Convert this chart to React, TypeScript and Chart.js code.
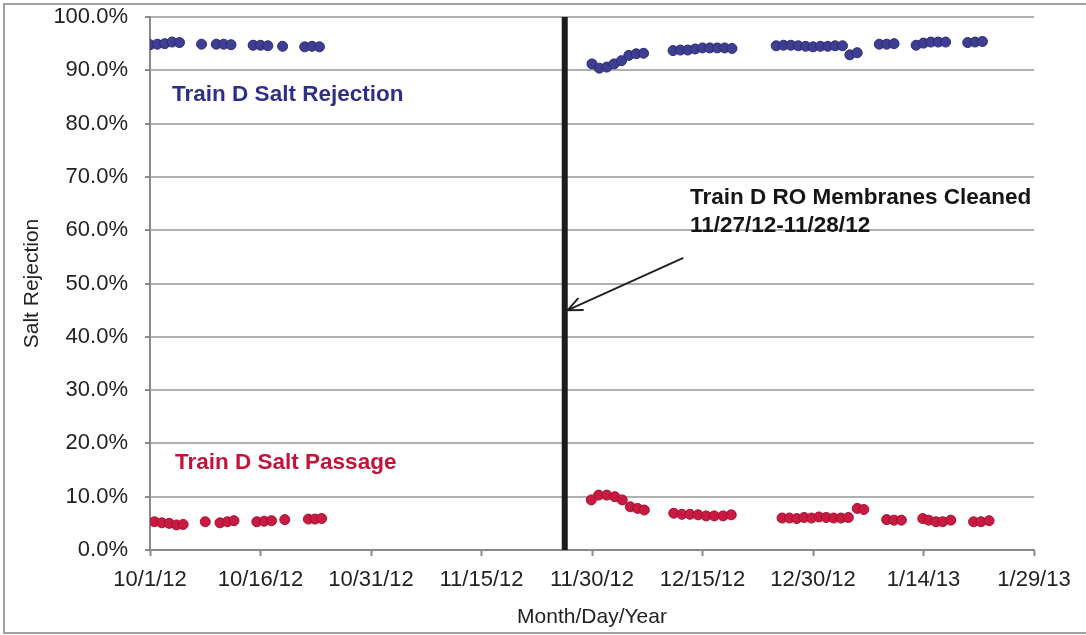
import React, { useEffect, useRef } from "react";
import { Chart, registerables } from "chart.js";

Chart.register(...registerables);

// X axis: days after 10/1/12
const xTickLabels = ["10/1/12", "10/16/12", "10/31/12", "11/15/12", "11/30/12", "12/15/12", "12/30/12", "1/14/13", "1/29/13"];
const yTickStep = 10;

const rejectionDays = [
  0, 1, 2, 3, 4, 7, 9, 10, 11, 14, 15, 16, 18, 21, 22, 23,
  60, 61, 62, 63, 64, 65, 66, 67,
  71, 72, 73, 74, 75, 76, 77, 78, 79,
  85, 86, 87, 88, 89, 90, 91, 92, 93, 94, 95, 96,
  99, 100, 101,
  104, 105, 106, 107, 108,
  111, 112, 113,
];
const rejectionValues = [
  94.8, 94.9, 95.0, 95.3, 95.2, 94.9, 94.9, 94.9, 94.8, 94.7, 94.7, 94.6, 94.5, 94.4, 94.5, 94.4,
  91.2, 90.4, 90.6, 91.2, 91.8, 92.8, 93.1, 93.2,
  93.7, 93.8, 93.8, 94.0, 94.2, 94.2, 94.2, 94.2, 94.1,
  94.6, 94.7, 94.7, 94.6, 94.5, 94.4, 94.5, 94.5, 94.6, 94.6, 92.9, 93.3,
  94.9, 94.9, 95.0,
  94.7, 95.1, 95.3, 95.3, 95.3,
  95.2, 95.3, 95.4,
];

const passageDays = [
  0.6, 1.6, 2.6, 3.6, 4.5, 7.5, 9.5, 10.5, 11.4, 14.5, 15.5, 16.5, 18.3, 21.5, 22.4, 23.3,
  59.9, 60.9, 62.0, 63.1, 64.1, 65.2, 66.2, 67.1,
  71.1, 72.2, 73.3, 74.4, 75.5, 76.6, 77.8, 78.9,
  85.8, 86.8, 87.8, 88.8, 89.8, 90.8, 91.8, 92.8, 93.8, 94.8, 96.0, 96.9,
  100.0, 101.0, 102.0,
  104.9, 105.7, 106.7, 107.6, 108.7,
  111.8, 112.8, 113.9,
];
const passageValues = [
  5.3, 5.1, 5.0, 4.7, 4.8, 5.3, 5.1, 5.3, 5.5, 5.3, 5.4, 5.5, 5.7, 5.8, 5.8, 5.9,
  9.4, 10.3, 10.3, 10.0, 9.4, 8.1, 7.8, 7.5,
  6.9, 6.7, 6.7, 6.6, 6.4, 6.4, 6.4, 6.6,
  6.0, 6.0, 5.9, 6.1, 6.0, 6.2, 6.1, 6.0, 6.0, 6.1, 7.8, 7.6,
  5.7, 5.6, 5.6,
  5.9, 5.6, 5.3, 5.3, 5.6,
  5.3, 5.3, 5.5,
];

const cleaningDay = 56.3;

const rejectionLabel = "Train D Salt Rejection";
const passageLabel = "Train D Salt Passage";
const cleanedLabel = ["Train D RO Membranes Cleaned", "11/27/12-11/28/12"];

const FONT = "'Liberation Sans', Arial, sans-serif";

const annotationPlugin = {
  id: "annotations",
  beforeDraw(chart: any) {
    const { ctx, width, height } = chart;
    ctx.save();
    ctx.fillStyle = "#ffffff";
    ctx.fillRect(0, 0, width, height);
    ctx.strokeStyle = "#a0a0a0";
    ctx.lineWidth = 2;
    ctx.beginPath();
    ctx.moveTo(width, 4);
    ctx.lineTo(4, 4);
    ctx.lineTo(4, 633);
    ctx.lineTo(width, 633);
    ctx.stroke();
    ctx.restore();
  },
  afterDraw(chart: any) {
    const { ctx } = chart;
    const xs = chart.scales.x;
    const ys = chart.scales.y;
    const px = (v: number) => xs.getPixelForValue(v);
    const py = (v: number) => ys.getPixelForValue(v);
    ctx.save();
    ctx.font = `bold 22.5px ${FONT}`;
    ctx.textBaseline = "middle";
    ctx.textAlign = "left";
    ctx.fillStyle = "#2f2f86";
    ctx.fillText(rejectionLabel, px(3.0), py(85.4));
    ctx.fillStyle = "#c4123a";
    ctx.fillText(passageLabel, px(3.4), py(16.3));
    ctx.fillStyle = "#151515";
    ctx.fillText(cleanedLabel[0], px(73.3), py(66.0));
    ctx.fillText(cleanedLabel[1], px(73.3), py(60.8));

    // arrow
    const x1 = px(72.4), y1 = py(54.8);
    const x2 = px(56.7), y2 = py(45.0);
    ctx.strokeStyle = "#222";
    ctx.lineWidth = 2;
    ctx.beginPath();
    ctx.moveTo(x1, y1);
    ctx.lineTo(x2, y2);
    const ang = Math.atan2(y2 - y1, x2 - x1);
    const L = 16, spread = 0.42;
    ctx.moveTo(x2 - L * Math.cos(ang - spread), y2 - L * Math.sin(ang - spread));
    ctx.lineTo(x2, y2);
    ctx.lineTo(x2 - L * Math.cos(ang + spread), y2 - L * Math.sin(ang + spread));
    ctx.stroke();
    ctx.restore();
  },
};

export default function App() {
  const canvasRef = useRef<HTMLCanvasElement | null>(null);

  useEffect(() => {
    if (!canvasRef.current) return;
    const chart = new Chart(canvasRef.current, {
      type: "scatter",
      data: {
        datasets: [
          {
            type: "line",
            label: "Cleaning",
            data: [
              { x: cleaningDay, y: 0 },
              { x: cleaningDay, y: 100 },
            ],
            borderColor: "#1c1c1c",
            borderWidth: 6,
            pointRadius: 0,
            fill: false,
          } as any,
          {
            label: rejectionLabel,
            data: rejectionDays.map((d, i) => ({ x: d, y: rejectionValues[i] })),
            backgroundColor: "#3e3e93",
            borderColor: "#2c2c74",
            borderWidth: 1,
            pointRadius: 5,
          },
          {
            label: passageLabel,
            data: passageDays.map((d, i) => ({ x: d, y: passageValues[i] })),
            backgroundColor: "#c91a42",
            borderColor: "#a3122f",
            borderWidth: 1,
            pointRadius: 5,
          },
        ],
      },
      options: {
        animation: false,
        responsive: false,
        maintainAspectRatio: false,
        layout: { padding: { top: 17, right: 52, left: 0, bottom: 0 } },
        plugins: {
          legend: { display: false },
          tooltip: { enabled: false },
        },
        scales: {
          x: {
            type: "linear",
            min: 0,
            max: 120,
            afterFit: (s: any) => {
              s.height = 85;
              s.paddingLeft = 0;
              s.paddingRight = 0;
            },
            ticks: {
              stepSize: 15,
              padding: 11,
              color: "#222",
              font: { family: FONT, size: 22 },
              maxRotation: 0,
              autoSkip: false,
              callback: (v: any) => xTickLabels[Math.round(Number(v) / 15)] ?? "",
            },
            grid: {
              drawOnChartArea: false,
              drawTicks: true,
              tickLength: 6,
              tickColor: "#8a8a8a",
              tickWidth: 2,
            },
            border: { color: "#8a8a8a", width: 2 },
            title: {
              display: true,
              text: "Month/Day/Year",
              color: "#222",
              font: { family: FONT, size: 21 },
              padding: { top: 0, bottom: 5 },
            },
          },
          y: {
            min: 0,
            max: 100,
            afterFit: (s: any) => {
              s.width = 150;
              s.paddingTop = 0;
              s.paddingBottom = 0;
            },
            ticks: {
              stepSize: yTickStep,
              padding: 17,
              color: "#222",
              font: { family: FONT, size: 22 },
              callback: (v: any) => Number(v).toFixed(1) + "%",
            },
            grid: {
              color: "#b0b0b0",
              lineWidth: 2,
              tickLength: 5,
              tickColor: "#8a8a8a",
              tickWidth: 2,
            },
            border: { color: "#8a8a8a", width: 2 },
            title: {
              display: true,
              text: "Salt Rejection",
              color: "#222",
              font: { family: FONT, size: 21 },
              padding: { top: 20, bottom: 0 },
            },
          },
        },
      },
      plugins: [annotationPlugin],
    });
    return () => chart.destroy();
  }, []);

  return (
    <div style={{ position: "absolute", left: 0, top: 0, width: 1086, height: 635 }}>
      <canvas ref={canvasRef} width={1086} height={635} style={{ display: "block" }} />
    </div>
  );
}
